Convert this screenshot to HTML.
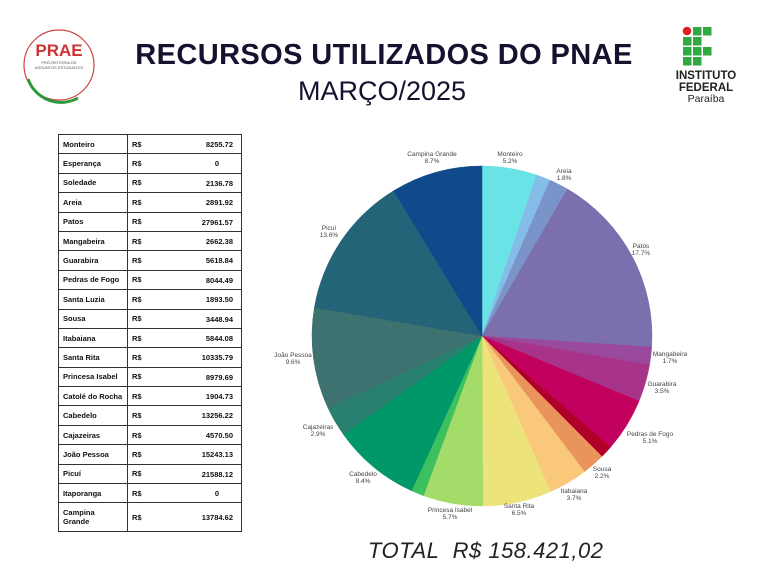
<!DOCTYPE html>
<html><head><meta charset="utf-8"><style>
body{margin:0;width:768px;height:576px;background:#fff;overflow:hidden;position:relative;font-family:"Liberation Sans",sans-serif}
.t{position:absolute;left:0;width:768px;text-align:center;color:#15112e}
table{position:absolute;left:58px;top:134px;border-collapse:collapse;font-size:7.5px;font-weight:bold;color:#111;table-layout:fixed;width:184px}
td{border:1px solid #333;height:18.4px;padding:0 4px;line-height:9px}
td.a{width:60px}td.b{position:relative}
td.b span{position:absolute;right:8px;top:5px}
</style></head><body>
<div class="t" style="top:39px;font-size:29px;font-weight:bold;letter-spacing:0.4px">RECURSOS UTILIZADOS DO PNAE</div>
<div class="t" style="top:76px;font-size:27px;font-weight:normal;left:-2px">MARÇO/2025</div>
<svg style="position:absolute;left:18px;top:24px" width="84" height="84"><circle cx="41" cy="41" r="35" fill="#fff" stroke="#c44" stroke-width="1.2"/><path d="M10 55 A35 35 0 0 0 60 74" stroke="#2a9a3a" stroke-width="3" fill="none"/><text x="41" y="32" font-size="17" font-weight="bold" fill="#c33" text-anchor="middle" font-family="Liberation Sans">PRAE</text><text x="41" y="40" font-size="4" text-anchor="middle" fill="#555">PRÓ-REITORIA DE</text><text x="41" y="45" font-size="4" text-anchor="middle" fill="#555">ASSUNTOS ESTUDANTIS</text></svg>
<svg style="position:absolute;left:682px;top:26px" width="40" height="48">
<circle cx="5" cy="5" r="4.3" fill="#e02020"/><rect x="11" y="1" width="8.5" height="8.5" fill="#2faa40"/><rect x="21" y="1" width="8.5" height="8.5" fill="#2faa40"/>
<rect x="1" y="11" width="8.5" height="8.5" fill="#2faa40"/><rect x="11" y="11" width="8.5" height="8.5" fill="#2faa40"/>
<rect x="1" y="21" width="8.5" height="8.5" fill="#2faa40"/><rect x="11" y="21" width="8.5" height="8.5" fill="#2faa40"/><rect x="21" y="21" width="8.5" height="8.5" fill="#2faa40"/>
<rect x="1" y="31" width="8.5" height="8.5" fill="#2faa40"/><rect x="11" y="31" width="8.5" height="8.5" fill="#2faa40"/></svg>
<div style="position:absolute;left:660px;top:71px;width:92px;text-align:center;font-size:11.5px;font-weight:bold;line-height:11.5px;color:#222">INSTITUTO<br>FEDERAL<br><span style="font-weight:normal;font-size:10.5px">Paraíba</span></div>
<table>
<tr><td class="a">Monteiro</td><td class="b">R$<span>8255.72</span></td></tr>
<tr><td class="a">Esperança</td><td class="b">R$<span style="right:22px">0</span></td></tr>
<tr><td class="a">Soledade</td><td class="b">R$<span>2136.78</span></td></tr>
<tr><td class="a">Areia</td><td class="b">R$<span>2891.92</span></td></tr>
<tr><td class="a">Patos</td><td class="b">R$<span>27961.57</span></td></tr>
<tr><td class="a">Mangabeira</td><td class="b">R$<span>2662.38</span></td></tr>
<tr><td class="a">Guarabira</td><td class="b">R$<span>5618.84</span></td></tr>
<tr><td class="a" style="white-space:nowrap">Pedras de Fogo</td><td class="b">R$<span>8044.49</span></td></tr>
<tr><td class="a">Santa Luzia</td><td class="b">R$<span>1893.50</span></td></tr>
<tr><td class="a">Sousa</td><td class="b">R$<span>3448.94</span></td></tr>
<tr><td class="a">Itabaiana</td><td class="b">R$<span>5844.08</span></td></tr>
<tr><td class="a">Santa Rita</td><td class="b">R$<span>10335.79</span></td></tr>
<tr><td class="a" style="white-space:nowrap">Princesa Isabel</td><td class="b">R$<span>8979.69</span></td></tr>
<tr><td class="a" style="white-space:nowrap">Catolé do Rocha</td><td class="b">R$<span>1904.73</span></td></tr>
<tr><td class="a">Cabedelo</td><td class="b">R$<span>13256.22</span></td></tr>
<tr><td class="a">Cajazeiras</td><td class="b">R$<span>4570.50</span></td></tr>
<tr><td class="a">João Pessoa</td><td class="b">R$<span>15243.13</span></td></tr>
<tr><td class="a">Picuí</td><td class="b">R$<span>21588.12</span></td></tr>
<tr><td class="a">Itaporanga</td><td class="b">R$<span style="right:22px">0</span></td></tr>
<tr><td class="a" style="height:28px">Campina<br>Grande</td><td class="b">R$<span style="top:10px">13784.62</span></td></tr>
</table>
<svg id="pie" style="position:absolute;left:0;top:0" width="768" height="576" font-family="Liberation Sans" font-size="6.5" fill="#444"></svg>
<div style="position:absolute;left:368px;top:538px;font-size:22px;font-style:italic;color:#222;letter-spacing:0.5px">TOTAL&nbsp;&nbsp;R$ 158.421,02</div>
<script>
var d=[[8255.72,"#6ae3e6"],[0,"#000"],[2136.78,"#85bde8"],[2891.92,"#7a93c8"],[27961.57,"#7b6fae"],[2662.38,"#9a4a9e"],[5618.84,"#a8348a"],[8044.49,"#c2005e"],[1893.5,"#b0002a"],[3448.94,"#e8945a"],[5844.08,"#f9c87a"],[10335.79,"#ece47a"],[8979.69,"#a4dc6a"],[1904.73,"#3cc060"],[13256.22,"#009868"],[4570.5,"#2a8070"],[15243.13,"#3e7270"],[21588.12,"#236478"],[0,"#000"],[13784.62,"#104a8a"]];
var tot=0;d.forEach(function(x){tot+=x[0]});
var cx=482,cy=336,r=170,a=0,s="";
d.forEach(function(x){if(!x[0])return;var b=a+x[0]/tot*2*Math.PI;
var x1=cx+r*Math.sin(a),y1=cy-r*Math.cos(a),x2=cx+r*Math.sin(b),y2=cy-r*Math.cos(b);
s+='<path d="M'+cx+' '+cy+'L'+x1+' '+y1+'A'+r+' '+r+' 0 '+((b-a)>Math.PI?1:0)+' 1 '+x2+' '+y2+'Z" fill="'+x[1]+'" stroke="'+x[1]+'" stroke-width="0.5"/>';a=b;});
var L=[["Campina Grande","8.7%",432,156],["Monteiro","5.2%",510,156],["Areia","1.8%",564,173],["Patos","17.7%",641,248],["Mangabeira","1.7%",670,356],["Guarabira","3.5%",662,386],["Pedras de Fogo","5.1%",650,436],["Sousa","2.2%",602,471],["Itabaiana","3.7%",574,493],["Santa Rita","6.5%",519,508],["Princesa Isabel","5.7%",450,512],["Cabedelo","8.4%",363,476],["Cajazeiras","2.9%",318,429],["João Pessoa","9.6%",293,357],["Picuí","13.6%",329,230]];
L.forEach(function(l){s+='<text x="'+l[2]+'" y="'+l[3]+'" text-anchor="middle">'+l[0]+'</text><text x="'+l[2]+'" y="'+(l[3]+7)+'" text-anchor="middle">'+l[1]+'</text>';});
document.getElementById("pie").innerHTML=s;
</script>
</body></html>
